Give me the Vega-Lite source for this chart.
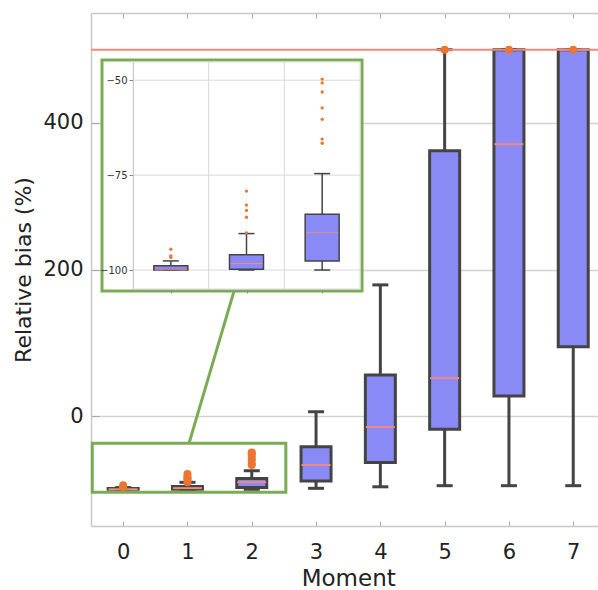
{
  "$schema": "https://vega.github.io/schema/vega-lite/v6.json",
  "width": 507,
  "height": 513,
  "autosize": {"type": "none"},
  "padding": {"left": 91, "top": 13, "right": 0, "bottom": 64},
  "background": "white",
  "config": {
    "view": {"stroke": null},
    "font": "DejaVu Sans",
    "axis": {"labelColor": "#222222", "titleColor": "#222222", "titleFontWeight": "normal", "domainColor": "#c8c8c8", "domainWidth": 1.5, "tickColor": "#a8a8a8", "gridColor": "#d2d2d2", "gridWidth": 1.5}
  },
  "datasets": {
    "boxes": [
      {"moment": 0, "lower": -100, "q1": -100, "median": -99.9, "q3": -98.9, "upper": -97.6},
      {"moment": 1, "lower": -100, "q1": -99.8, "median": -98.3, "q3": -96.0, "upper": -90.4},
      {"moment": 2, "lower": -100, "q1": -97.6, "median": -90.2, "q3": -85.3, "upper": -74.6},
      {"moment": 3, "lower": -98.6, "q1": -88.7, "median": -66.8, "q3": -41.9, "upper": 5.9},
      {"moment": 4, "lower": -96.5, "q1": -63.2, "median": -15, "q3": 56, "upper": 179},
      {"moment": 5, "lower": -95, "q1": -18, "median": 51.8, "q3": 362, "upper": 500},
      {"moment": 6, "lower": -95, "q1": 27.3, "median": 371, "q3": 500, "upper": 500},
      {"moment": 7, "lower": -95, "q1": 94.5, "median": 500, "q3": 500, "upper": 500}
    ],
    "outliers": [
      {"moment": 0, "value": -94.5}, {"moment": 0, "value": -96.3}, {"moment": 0, "value": -96.7},
      {"moment": 1, "value": -79.2}, {"moment": 1, "value": -82.9}, {"moment": 1, "value": -84.3}, {"moment": 1, "value": -86.1}, {"moment": 1, "value": -90.2},
      {"moment": 2, "value": -49.7}, {"moment": 2, "value": -50.7}, {"moment": 2, "value": -53.1}, {"moment": 2, "value": -57.3}, {"moment": 2, "value": -60.3}, {"moment": 2, "value": -65.5}, {"moment": 2, "value": -66.6},
      {"moment": 5, "value": 500}, {"moment": 6, "value": 500}, {"moment": 7, "value": 500}
    ],
    "insetGridY": [{"gy": -100}, {"gy": -75}, {"gy": -50}],
    "insetGridX": [{"gx": 0.5}, {"gx": 1.5}]
  },
  "layer": [
    {
      "resolve": {"axis": {"x": "independent"}},
      "layer": [
        {
          "data": {"name": "boxes"},
          "mark": {"type": "rule", "color": "#444444", "strokeWidth": 3},
          "encoding": {
            "x": {"field": "moment", "type": "quantitative", "title": "Moment",
              "scale": {"domain": [-0.5, 7.5], "range": [0, 514.4], "nice": false, "zero": false, "padding": 0},
              "axis": {"orient": "bottom", "title": "Moment", "format": "d", "values": [0, 0.5, 1, 1.5, 2, 2.5, 3, 3.5, 4, 4.5, 5, 5.5, 6, 6.5, 7, 7.5],
                "labelExpr": "datum.value % 1 === 0 ? datum.label : ''",
                "grid": true,
                "gridOpacity": {"condition": {"test": "datum.value % 1 === 0", "value": 0}, "value": 1},
                "tickOpacity": {"condition": {"test": "datum.value % 1 === 0", "value": 1}, "value": 0},
                "tickSize": -5, "labelFontSize": 21, "labelPadding": 20, "labelFlush": false, "labelOverlap": false,
                "titleFontSize": 23, "titlePadding": 5}},
            "y": {"field": "lower", "type": "quantitative", "title": "Relative bias (%)",
              "scale": {"domain": [-150, 550], "nice": false, "zero": false, "padding": 0},
              "axis": {"orient": "left", "title": "Relative bias (%)", "values": [0, 200, 400], "grid": true,
                "tickSize": -8, "labelFontSize": 21, "labelPadding": 16, "titleFontSize": 22, "titlePadding": 7}},
            "y2": {"field": "q1"}
          }
        },
        {
          "data": {"name": "boxes"},
          "mark": {"type": "rule", "color": "#444444", "strokeWidth": 3},
          "encoding": {
            "x": {"field": "moment", "type": "quantitative", "title": null,
              "axis": {"orient": "top", "title": null, "values": [0, 1, 2, 3, 4, 5, 6, 7], "labels": false, "grid": false, "tickSize": -5}},
            "y": {"field": "q3", "type": "quantitative", "title": "Relative bias (%)"},
            "y2": {"field": "upper"}
          }
        },
        {
          "data": {"name": "boxes"},
          "mark": {"type": "bar", "width": 30, "fill": "#8a8af6", "stroke": "#444444", "strokeWidth": 3},
          "encoding": {
            "x": {"field": "moment", "type": "quantitative", "axis": null},
            "y": {"field": "q1", "type": "quantitative", "title": "Relative bias (%)"},
            "y2": {"field": "q3"}
          }
        },
        {
          "data": {"name": "boxes"},
          "mark": {"type": "tick", "orient": "horizontal", "size": 16, "thickness": 3, "color": "#444444", "opacity": 1},
          "encoding": {
            "x": {"field": "moment", "type": "quantitative", "axis": null},
            "y": {"field": "lower", "type": "quantitative", "title": "Relative bias (%)"}
          }
        },
        {
          "data": {"name": "boxes"},
          "mark": {"type": "tick", "orient": "horizontal", "size": 16, "thickness": 3, "color": "#444444", "opacity": 1},
          "encoding": {
            "x": {"field": "moment", "type": "quantitative", "axis": null},
            "y": {"field": "upper", "type": "quantitative", "title": "Relative bias (%)"}
          }
        },
        {
          "data": {"name": "boxes"},
          "mark": {"type": "tick", "orient": "horizontal", "size": 29, "thickness": 2, "color": "#f08a7a", "opacity": 1},
          "encoding": {
            "x": {"field": "moment", "type": "quantitative", "axis": null},
            "y": {"field": "median", "type": "quantitative", "title": "Relative bias (%)"}
          }
        },
        {
          "data": {"values": [{"limit": 500}]},
          "mark": {"type": "rule", "color": "#f08a7a", "strokeWidth": 2},
          "encoding": {
            "y": {"field": "limit", "type": "quantitative", "title": "Relative bias (%)"}
          }
        },
        {
          "data": {"name": "outliers"},
          "mark": {"type": "point", "filled": true, "size": 64, "color": "#ec7530", "opacity": 1},
          "encoding": {
            "x": {"field": "moment", "type": "quantitative", "axis": null},
            "y": {"field": "value", "type": "quantitative", "title": "Relative bias (%)"}
          }
        },
        {
          "data": {"values": [{"xa": -0.48, "xb": 2.53, "ya": -37.2, "yb": -104}]},
          "mark": {"type": "rect", "fill": null, "fillOpacity": 0, "stroke": "#7bab55", "strokeWidth": 3},
          "encoding": {
            "x": {"field": "xa", "type": "quantitative", "axis": null},
            "x2": {"field": "xb"},
            "y": {"field": "ya", "type": "quantitative", "title": "Relative bias (%)"},
            "y2": {"field": "yb"}
          }
        },
        {
          "data": {"values": [{"xa": 1.024, "xb": 1.724, "ya": -37.2, "yb": 170.5}]},
          "mark": {"type": "rule", "color": "#7bab55", "strokeWidth": 3},
          "encoding": {
            "x": {"field": "xa", "type": "quantitative", "axis": null},
            "x2": {"field": "xb"},
            "y": {"field": "ya", "type": "quantitative", "title": "Relative bias (%)"},
            "y2": {"field": "yb"}
          }
        },
        {
          "data": {"values": [{"xa": -0.329, "xb": 3.715, "ya": 485.7, "yb": 170.5}]},
          "mark": {"type": "rect", "fill": "white", "stroke": "#7bab55", "strokeWidth": 3},
          "encoding": {
            "x": {"field": "xa", "type": "quantitative", "axis": null},
            "x2": {"field": "xb"},
            "y": {"field": "ya", "type": "quantitative", "title": "Relative bias (%)"},
            "y2": {"field": "yb"}
          }
        }
      ]
    },
    {
      "layer": [
        {
          "data": {"values": [{"xa": -0.5, "xb": 2.5, "ya": -105, "yb": -45.2}]},
          "mark": {"type": "rect", "fill": "white", "stroke": "#dddddd", "strokeWidth": 1},
          "encoding": {
            "x": {"field": "xa", "type": "quantitative", "title": null,
              "scale": {"domain": [-0.5, 2.5], "range": [42, 269], "nice": false, "zero": false, "padding": 0},
              "axis": {"orient": "bottom", "title": null, "offset": -237, "zindex": 1, "values": [0, 1, 2],
                "labels": false, "grid": false,
                "tickSize": 4, "tickWidth": 1, "tickColor": "#888888", "domainWidth": 1, "domainColor": "#cccccc"}},
            "x2": {"field": "xb"},
            "y": {"field": "ya", "type": "quantitative", "title": null,
              "scale": {"domain": [-105, -45.2], "range": [276, 49], "nice": false, "zero": false, "padding": 0},
              "axis": {"orient": "left", "title": null, "offset": -42, "zindex": 1, "values": [-100, -75, -50],
                "grid": false, "tickSize": 4, "tickWidth": 1, "tickColor": "#888888",
                "domainWidth": 1, "domainColor": "#cccccc", "labelFontSize": 10, "labelPadding": 2, "labelColor": "#333333"}},
            "y2": {"field": "yb"}
          }
        },
        {
          "data": {"name": "insetGridY"},
          "mark": {"type": "rule", "color": "#d8d8d8", "strokeWidth": 1},
          "encoding": {
            "y": {"field": "gy", "type": "quantitative", "title": null},
            "x": {"datum": -0.5, "type": "quantitative", "title": null},
            "x2": {"datum": 2.5}
          }
        },
        {
          "data": {"name": "insetGridX"},
          "mark": {"type": "rule", "color": "#d8d8d8", "strokeWidth": 1},
          "encoding": {
            "x": {"field": "gx", "type": "quantitative", "title": null},
            "y": {"datum": -105, "type": "quantitative", "title": null},
            "y2": {"datum": -45.2}
          }
        },
        {
          "data": {"name": "boxes"},
          "transform": [{"filter": "datum.moment <= 2"}],
          "mark": {"type": "rule", "color": "#444444", "strokeWidth": 1.5},
          "encoding": {
            "x": {"field": "moment", "type": "quantitative", "title": null},
            "y": {"field": "lower", "type": "quantitative", "title": null},
            "y2": {"field": "q1"}
          }
        },
        {
          "data": {"name": "boxes"},
          "transform": [{"filter": "datum.moment <= 2"}],
          "mark": {"type": "rule", "color": "#444444", "strokeWidth": 1.5},
          "encoding": {
            "x": {"field": "moment", "type": "quantitative", "title": null},
            "y": {"field": "q3", "type": "quantitative", "title": null},
            "y2": {"field": "upper"}
          }
        },
        {
          "data": {"name": "boxes"},
          "transform": [{"filter": "datum.moment <= 2"}],
          "mark": {"type": "bar", "width": 34, "fill": "#8a8af6", "stroke": "#444444", "strokeWidth": 1.5},
          "encoding": {
            "x": {"field": "moment", "type": "quantitative", "title": null},
            "y": {"field": "q1", "type": "quantitative", "title": null},
            "y2": {"field": "q3"}
          }
        },
        {
          "data": {"name": "boxes"},
          "transform": [{"filter": "datum.moment <= 2"}],
          "mark": {"type": "tick", "orient": "horizontal", "size": 16, "thickness": 1.5, "color": "#444444", "opacity": 1},
          "encoding": {
            "x": {"field": "moment", "type": "quantitative", "title": null},
            "y": {"field": "upper", "type": "quantitative", "title": null}
          }
        },
        {
          "data": {"name": "boxes"},
          "transform": [{"filter": "datum.moment <= 2"}],
          "mark": {"type": "tick", "orient": "horizontal", "size": 16, "thickness": 1.5, "color": "#444444", "opacity": 1},
          "encoding": {
            "x": {"field": "moment", "type": "quantitative", "title": null},
            "y": {"field": "lower", "type": "quantitative", "title": null}
          }
        },
        {
          "data": {"name": "boxes"},
          "transform": [{"filter": "datum.moment <= 2"}],
          "mark": {"type": "tick", "orient": "horizontal", "size": 32, "thickness": 1, "color": "#f08a7a", "opacity": 1},
          "encoding": {
            "x": {"field": "moment", "type": "quantitative", "title": null},
            "y": {"field": "median", "type": "quantitative", "title": null}
          }
        },
        {
          "data": {"name": "outliers"},
          "transform": [{"filter": "datum.moment <= 2"}],
          "mark": {"type": "point", "filled": true, "size": 11, "color": "#ec7530", "opacity": 1},
          "encoding": {
            "x": {"field": "moment", "type": "quantitative", "title": null},
            "y": {"field": "value", "type": "quantitative", "title": null}
          }
        }
      ]
    }
  ],
  "resolve": {"scale": {"x": "independent", "y": "independent"}, "axis": {"x": "independent", "y": "independent"}}
}
